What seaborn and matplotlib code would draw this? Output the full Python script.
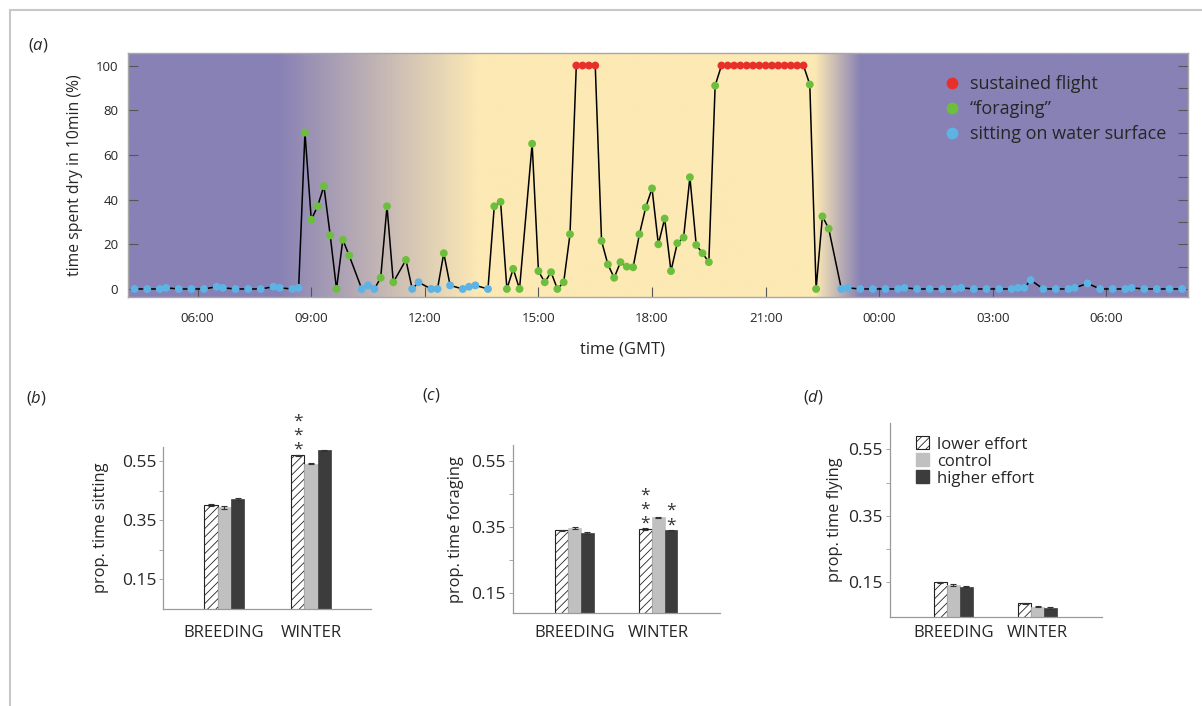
import numpy as np
import pandas as pd
import matplotlib
matplotlib.use('Agg')
import matplotlib.pyplot as plt
from matplotlib.patches import Rectangle, Patch
import seaborn as sns

# ---- panel (a): one bird, time spent dry per 10 min bin ----
# time in minutes since midnight of the first day
minutes = [260, 280, 300, 310, 330, 350, 370, 390, 400, 420, 440, 460, 480, 490, 510, 520,
           530, 540, 550, 560, 570, 580, 590, 600,
           620, 630, 640, 650, 660, 670, 690, 700, 710, 730, 740, 750, 760, 780, 790, 800, 820,
           830, 840, 850, 860, 870, 890, 900, 910, 920, 930, 940, 950,
           960, 970, 980, 990,
           1000, 1010, 1020, 1030, 1040, 1050, 1060, 1070, 1080, 1090, 1100, 1110, 1120, 1130,
           1140, 1150, 1160, 1170, 1180,
           1190, 1200, 1210, 1220, 1230, 1240, 1250, 1260, 1270, 1280, 1290, 1300, 1310, 1320,
           1330, 1340, 1350, 1360,
           1380, 1390, 1410, 1430, 1450, 1470, 1480, 1500, 1520, 1540, 1560, 1570, 1590, 1610,
           1630, 1650, 1660, 1670, 1680, 1700, 1720, 1740, 1750, 1770, 1790, 1810, 1830, 1840,
           1860, 1880, 1900, 1920]
dry_pct = [0, 0, 0, 0.5, 0, 0, 0, 1, 0.5, 0, 0, 0, 1, 0.5, 0, 0.5,
           70, 31, 37, 46, 24, 0, 22, 15,
           0, 1.6, 0, 5, 37, 3, 13, 0, 3, 0, 0, 16, 1.6, 0, 1, 1.6, 0,
           37, 39, 0, 9, 0, 65, 8, 3, 7.5, 0, 3, 24.5,
           100, 100, 100, 100,
           21.5, 11, 5, 12, 10, 9.7, 24.5, 36.5, 45, 20, 31.5, 8, 20.5, 23,
           50, 19.7, 16, 12, 91,
           100, 100, 100, 100, 100, 100, 100, 100, 100, 100, 100, 100, 100, 100,
           91.5, 0, 32.5, 27,
           0, 0.5, 0, 0, 0, 0, 0.5, 0, 0, 0, 0, 0.5, 0, 0,
           0, 0, 0.5, 0.5, 4, 0, 0, 0, 0.5, 2.5, 0, 0, 0, 0.5,
           0, 0, 0, 0]
# s = sitting on water, g = foraging, f = sustained flight
state = (['s'] * 16 + ['g'] * 8 +
         ['s', 's', 's', 'g', 'g', 'g', 'g', 's', 's', 's', 's', 'g', 's', 's', 's', 's', 's'] +
         ['g'] * 12 + ['f'] * 4 + ['g'] * 19 + ['f'] * 14 + ['g'] * 4 + ['s'] * 32)

state_names = {'f': 'sustained flight', 'g': '\u201cforaging\u201d', 's': 'sitting on water surface'}
state_order = ['sustained flight', '\u201cforaging\u201d', 'sitting on water surface']
state_colors = ['#e8302b', '#6cbf3c', '#5cb3e4']

hour_ticks = [6, 9, 12, 15, 18, 21, 24, 27, 30]
hour_labels = ['06:00', '09:00', '12:00', '15:00', '18:00', '21:00', '00:00', '03:00', '06:00']

# ---- panels (b)-(d): activity budgets per treatment ----
seasons = ['BREEDING', 'WINTER']
treatments = ['lower effort', 'control', 'higher effort']

sit_lower = [0.402, 0.571]
sit_control = [0.394, 0.542]
sit_higher = [0.422, 0.588]
sit_err = [[0.004, 0.002], [0.004, 0.002], [0.004, 0.002]]

forage_lower = [0.340, 0.344]
forage_control = [0.348, 0.380]
forage_higher = [0.332, 0.340]
forage_err = [[0.002, 0.002], [0.003, 0.002], [0.002, 0.002]]

fly_lower = [0.150, 0.087]
fly_control = [0.142, 0.077]
fly_higher = [0.137, 0.073]
fly_err = [[0.002, 0.002], [0.002, 0.002], [0.002, 0.002]]

sns.set_theme(style='white')
plt.rcParams['font.family'] = ['Open Sans', 'DejaVu Sans']
plt.rcParams['mathtext.fontset'] = 'custom'
plt.rcParams['mathtext.rm'] = 'Open Sans'
plt.rcParams['mathtext.it'] = 'Open Sans:italic'
plt.rcParams['hatch.linewidth'] = 0.6
plt.rcParams['hatch.color'] = '#222222'

fig = plt.figure(figsize=(12.02, 7.06), dpi=100)
fig.patches.append(Rectangle((10 / 1202, -0.1), 1.5, 1.1 - 10 / 706, transform=fig.transFigure,
                             fill=False, ec='#c8c8c8', lw=1.5))

# ---------------- panel (a) ----------------
ax = fig.add_axes([0.1065, 0.5793, 0.882, 0.3456])
x0, x1, y0, y1 = 4.16, 32.16, -3.6, 105.6

df = pd.DataFrame({'hour': np.array(minutes) / 60, 'dry': dry_pct,
                   'state': [state_names[s] for s in state]})

# night / day background
purple = np.array([136, 129, 181]) / 255
yellow = np.array([252, 233, 180]) / 255
xs = np.linspace(x0, x1, 800)
w = np.minimum(np.clip((xs - 8.1) / (13.4 - 8.1), 0, 1), np.clip((23.5 - xs) / (23.5 - 22.3), 0, 1))
img = purple[None, :] * (1 - w[:, None]) + yellow[None, :] * w[:, None]
ax.imshow(img[None, :, :], extent=[x0, x1, y0, y1], aspect='auto', zorder=0, interpolation='bilinear')

sns.lineplot(data=df, x='hour', y='dry', color='black', lw=1.1, ax=ax, zorder=2)
sns.scatterplot(data=df, x='hour', y='dry', hue='state', hue_order=state_order, palette=state_colors,
                s=32, edgecolor='none', zorder=3, ax=ax)
handles, labels = ax.get_legend_handles_labels()
ax.legend(handles, labels, loc='upper right', frameon=False, fontsize=13, handletextpad=0.0,
          labelspacing=0.38, markerscale=1.5, borderaxespad=0.5, bbox_to_anchor=(0.995, 0.975))

ax.set_xlim(x0, x1)
ax.set_ylim(y0, y1)
ax.set_xticks(hour_ticks)
ax.set_xticklabels(hour_labels)
ax.set_yticks(range(0, 101, 20))
ax.set_yticks([10, 30, 50, 70, 90], minor=True)
ax.tick_params(axis='x', direction='in', length=7, width=0.8, color='#555555', labelsize=9.5,
               pad=10.5, bottom=True)
ax.tick_params(axis='y', which='major', direction='in', length=7, width=0.8, color='#555555',
               labelsize=9.5, left=True, right=True, pad=7)
ax.tick_params(axis='y', which='minor', direction='in', length=7, width=0.8, color='#555555',
               left=False, right=True)
ax.set_xlabel('time (GMT)', fontsize=12, labelpad=12, x=0.466)
ax.set_ylabel('time spent dry in 10min (%)', fontsize=11.3, labelpad=9)
for sp in ax.spines.values():
    sp.set_color('#a8a8a8')
    sp.set_linewidth(1)
fig.text(0.023, 0.936, r'($\it{a}$)', fontsize=12, va='center')


# ---------------- panels (b)-(d) ----------------
bar_colors = ['white', '#c0c0c0', '#3c3c3c']


def bar_panel(rect, lower, control, higher, errs, ylabel, ylim, xlim, xpad, ypad):
    bx = fig.add_axes(rect)
    d = pd.DataFrame({'season': seasons * 3,
                      'treatment': [t for t in treatments for _ in seasons],
                      'prop': lower + control + higher})
    sns.barplot(data=d, x='season', y='prop', hue='treatment', hue_order=treatments,
                palette=bar_colors, width=0.46, errorbar=None, legend=False, ax=bx)
    bar_groups = list(bx.containers)[:3]
    for i, cont in enumerate(bar_groups):
        for j, bar in enumerate(cont):
            if i == 0:
                bar.set_facecolor('white')
                bar.set_edgecolor('#222222')
                bar.set_hatch('////')
                bar.set_linewidth(0.8)
            else:
                bar.set_edgecolor(bar_colors[i])
                bar.set_linewidth(0.5)
            xc = bar.get_x() + bar.get_width() / 2
            bx.errorbar(xc, bar.get_height(), yerr=errs[i][j], fmt='none', ecolor='#333333',
                        elinewidth=0.8, capsize=2.5, capthick=0.8, zorder=4)
    bx.set_ylim(*ylim)
    bx.set_xlim(*xlim)
    bx.set_yticks([0.15, 0.35, 0.55])
    bx.set_yticklabels(['0.15', '0.35', '0.55'])
    bx.set_yticks([0.25, 0.45], minor=True)
    bx.tick_params(axis='y', which='both', direction='out', length=3, width=0.6, color='#999999',
                   left=True, labelsize=12.5, pad=2)
    bx.tick_params(axis='x', length=0, labelsize=12, pad=xpad)
    bx.set_xlabel('')
    bx.set_ylabel(ylabel, fontsize=11.8, labelpad=ypad)
    sns.despine(ax=bx)
    for sp in ['left', 'bottom']:
        bx.spines[sp].set_color('#9a9a9a')
        bx.spines[sp].set_linewidth(0.9)
    return bx, bar_groups


axb, bars_b = bar_panel([0.1359, 0.1378, 0.1728, 0.2295], sit_lower, sit_control, sit_higher, sit_err,
                        'prop. time sitting', (0.05, 0.60), (-0.70, 1.69), 12, 9)
axc, bars_c = bar_panel([0.4265, 0.1313, 0.1725, 0.2384], forage_lower, forage_control, forage_higher,
                        forage_err, 'prop. time foraging', (0.09, 0.598), (-0.74, 1.74), 8.5, 5)
axd, bars_d = bar_panel([0.7404, 0.1265, 0.1761, 0.2739], fly_lower, fly_control, fly_higher, fly_err,
                        'prop. time flying', (0.047, 0.628), (-0.75, 1.76), 6, 4)


def stars(bx, groups, idx, txt):
    bar = groups[idx][1]
    xc = bar.get_x() + bar.get_width() / 2
    bx.annotate(txt, xy=(xc, bar.get_height()), xytext=(0, -2), textcoords='offset points',
                ha='center', va='bottom', fontsize=12.5, linespacing=0.85, color='#333333',
                annotation_clip=False)


stars(axb, bars_b, 0, '*\n*\n*')
stars(axc, bars_c, 0, '*\n*\n*')
stars(axc, bars_c, 2, '*\n*')

leg_handles = [Patch(facecolor='white', edgecolor='#222222', hatch='////', lw=0.8),
               Patch(facecolor='#c0c0c0', edgecolor='#c0c0c0'),
               Patch(facecolor='#3c3c3c', edgecolor='#3c3c3c')]
axd.legend(leg_handles, treatments, loc='upper left', bbox_to_anchor=(0.05, 1.01), frameon=False,
           fontsize=12, handlelength=0.8, handleheight=0.8, handletextpad=0.5, labelspacing=0.05)

fig.text(0.022, 0.436, r'($\it{b}$)', fontsize=12, va='center')
fig.text(0.351, 0.440, r'($\it{c}$)', fontsize=12, va='center')
fig.text(0.668, 0.437, r'($\it{d}$)', fontsize=12, va='center')

fig.savefig('out.png', dpi=100)
